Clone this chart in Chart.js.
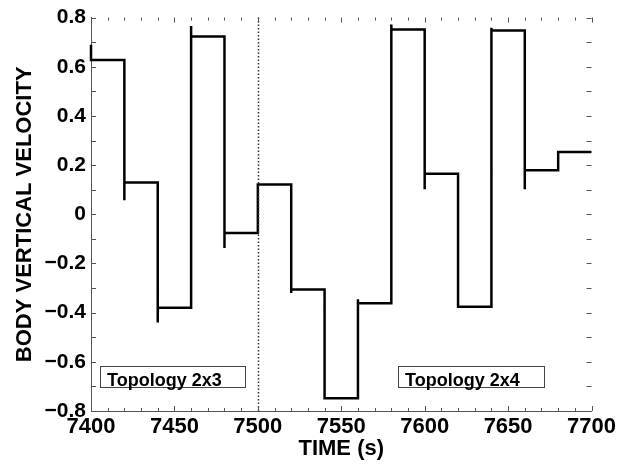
<!DOCTYPE html>
<html>
<head>
<meta charset="utf-8">
<script src="https://cdn.jsdelivr.net/npm/chart.js@4"></script>
<style>
  html, body { margin: 0; padding: 0; background: #fff; }
  #wrap { width: 619px; height: 464px; }
</style>
</head>
<body>
<div id="wrap"><canvas id="velChart" width="619" height="464"></canvas></div>
<script>
// time at which each step starts (s)
var stepStarts = [7400, 7420, 7440, 7460, 7480, 7500, 7520, 7540, 7560, 7580, 7600, 7620, 7640, 7660, 7680];
// velocity level held during each step
var stepLevels = [0.628, 0.129, -0.38, 0.723, -0.076, 0.121, -0.306, -0.748, -0.362, 0.752, 0.165, -0.376, 0.748, 0.179, 0.253];
// short overshoot at the switching instant (null = none)
var overshoots = [0.69, 0.057, -0.44, 0.766, -0.137, null, -0.32, null, -0.346, 0.772, 0.102, null, 0.759, 0.102, null];
var endTime = 7700;
var switchTime = 7500;

var topologyLabels = ["Topology 2x3", "Topology 2x4"];
var labelBoxStart = [7405.4, 7584];
var labelBoxEnd = [7492.6, 7671.4];

var xTicks = [7400, 7450, 7500, 7550, 7600, 7650, 7700];
var yTicks = [-0.8, -0.6, -0.4, -0.2, 0, 0.2, 0.4, 0.6, 0.8];

// build the step trace from the arrays above
var points = [];
for (var i = 0; i < stepStarts.length; i++) {
  var t = stepStarts[i];
  if (i > 0) points.push({ x: t, y: stepLevels[i - 1] });
  if (overshoots[i] !== null) points.push({ x: t, y: overshoots[i] });
  points.push({ x: t, y: stepLevels[i] });
}
points.push({ x: endTime, y: stepLevels[stepLevels.length - 1] });

var FONT = "'Liberation Sans', Arial, Helvetica, sans-serif";
var AXIS_COLOR = "#555";

function fmtY(v) {
  if (Math.abs(v) < 1e-9) return "0";
  return (v < 0 ? "\u2212" : "") + Math.abs(v).toFixed(1);
}

// inward ticks on all four sides, switch line and label boxes
var decorPlugin = {
  id: "decor",
  afterDatasetsDraw: function (chart) {
    var ctx = chart.ctx;
    var xs = chart.scales.x, ys = chart.scales.y;
    var a = chart.chartArea;
    ctx.save();

    // dotted line at the topology switch
    ctx.strokeStyle = "#333";
    ctx.lineWidth = 1.5;
    ctx.setLineDash([1.5, 2]);
    var sx = Math.round(xs.getPixelForValue(switchTime)) + 0.5;
    ctx.beginPath();
    ctx.moveTo(sx, a.top);
    ctx.lineTo(sx, a.bottom);
    ctx.stroke();
    ctx.setLineDash([]);

    // ticks
    ctx.strokeStyle = AXIS_COLOR;
    ctx.lineWidth = 1;
    ctx.beginPath();
    for (var t = 7400; t <= 7700; t += 10) {
      var px = Math.round(xs.getPixelForValue(t)) + 0.5;
      var len = (t % 50 === 0) ? 5 : 3;
      ctx.moveTo(px, a.bottom); ctx.lineTo(px, a.bottom - len);
      ctx.moveTo(px, a.top); ctx.lineTo(px, a.top + len);
    }
    for (var k = -8; k <= 8; k++) {
      var py = Math.round(ys.getPixelForValue(k / 10)) + 0.5;
      ctx.moveTo(a.left, py); ctx.lineTo(a.left + 5, py);
      ctx.moveTo(a.right, py); ctx.lineTo(a.right - 5, py);
    }
    ctx.stroke();

    // label boxes
    var yTop = ys.getPixelForValue(-0.617);
    var yBot = ys.getPixelForValue(-0.702);
    ctx.font = "bold 18px " + FONT;
    ctx.textBaseline = "alphabetic";
    for (var j = 0; j < topologyLabels.length; j++) {
      var x0 = xs.getPixelForValue(labelBoxStart[j]);
      var x1 = xs.getPixelForValue(labelBoxEnd[j]);
      ctx.fillStyle = "#fff";
      ctx.fillRect(x0, yTop, x1 - x0, yBot - yTop);
      ctx.strokeStyle = "#444";
      ctx.strokeRect(Math.round(x0) + 0.5, Math.round(yTop) + 0.5, Math.round(x1 - x0), Math.round(yBot - yTop));
      ctx.fillStyle = "#000";
      ctx.fillText(topologyLabels[j], x0 + 7, yBot - 1);
    }
    ctx.restore();
  }
};

var ctx = document.getElementById("velChart").getContext("2d");
var velChart = new Chart(ctx, {
  type: "line",
  data: {
    datasets: [{
      label: "Body vertical velocity",
      data: points,
      borderColor: "#000",
      borderWidth: 2.5,
      pointRadius: 0,
      fill: false,
      tension: 0,
      clip: 3
    }]
  },
  options: {
    responsive: false,
    animation: false,
    layout: { padding: { top: 16, right: 26, left: 0, bottom: 0 } },
    plugins: { legend: { display: false }, tooltip: { enabled: false } },
    scales: {
      x: {
        type: "linear",
        min: 7400,
        max: 7700,
        afterBuildTicks: function (s) { s.ticks = xTicks.map(function (v) { return { value: v }; }); },
        afterFit: function (s) { s.height = 53; },
        grid: { display: false, drawTicks: false },
        border: { display: true, color: AXIS_COLOR, width: 1 },
        ticks: {
          color: "#000",
          padding: 3,
          maxRotation: 0,
          font: { family: FONT, size: 22, weight: "bold" },
          callback: function (v) { return String(v); }
        },
        title: {
          display: true,
          text: "TIME (s)",
          color: "#000",
          padding: { top: 0, bottom: 2 },
          font: { family: FONT, size: 22, weight: "bold" }
        }
      },
      y: {
        min: -0.8,
        max: 0.8,
        afterBuildTicks: function (s) { s.ticks = yTicks.map(function (v) { return { value: v }; }); },
        afterFit: function (s) { s.width = 91; },
        grid: { display: false, drawTicks: false },
        border: { display: true, color: AXIS_COLOR, width: 1 },
        ticks: {
          color: "#000",
          padding: 5,
          font: { family: FONT, size: 21, weight: "bold" },
          callback: function (v) { return fmtY(v); }
        },
        title: {
          display: true,
          text: "BODY VERTICAL VELOCITY",
          color: "#000",
          padding: { top: 12, bottom: 0 },
          font: { family: FONT, size: 22, weight: "bold" }
        }
      }
    }
  },
  plugins: [decorPlugin]
});
</script>
</body>
</html>
